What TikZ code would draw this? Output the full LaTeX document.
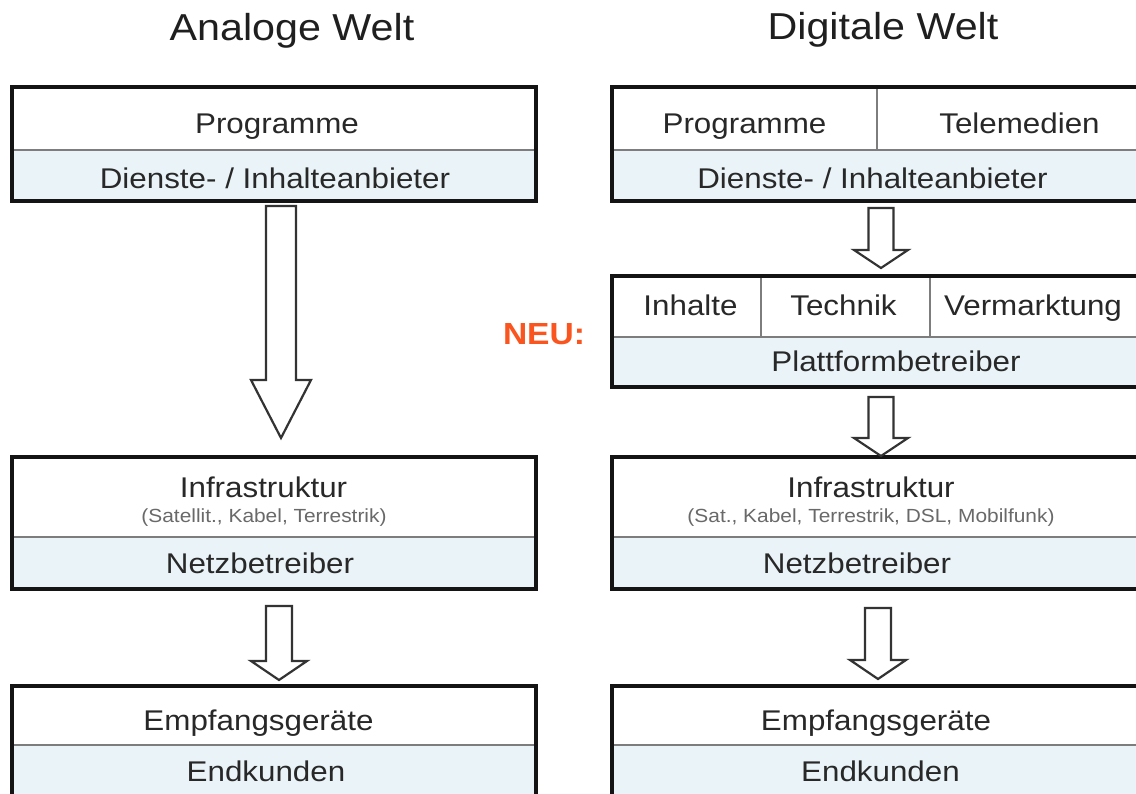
\documentclass[tikz,border=0pt]{standalone}
\usepackage{fontspec}
\setmainfont{Liberation Sans}
\newfontfamily\wfont{Liberation Sans}[FakeStretch=1.1]
\newfontfamily\wfontbold{Liberation Sans Bold}[FakeStretch=1.1]
\usetikzlibrary{calc}

\definecolor{paneblue}{RGB}{234,244,248}
\definecolor{inkgrey}{RGB}{40,40,40}
\definecolor{subgrey}{RGB}{105,105,105}
\definecolor{neuorange}{RGB}{250,85,30}
\definecolor{rulegrey}{RGB}{125,125,125}

\begin{document}
\begin{tikzpicture}[x=1pt,y=-1pt,
  cell/.style={draw=rulegrey, line width=1.4pt, inner sep=0pt, outer sep=0pt, fill=white},
  lowcell/.style={cell, fill=paneblue},
  frame/.style={draw=black!92, line width=3.3pt, inner sep=0pt, outer sep=0pt},
  title/.style={font=\wfont\fontsize{37.5}{40}\selectfont, text=black!88, anchor=base, inner sep=0pt},
  lbl/.style={font=\wfont\fontsize{28.5}{30}\selectfont, text=inkgrey, anchor=base, inner sep=0pt},
  sublbl/.style={font=\wfont\fontsize{19}{21}\selectfont, text=subgrey, anchor=base, inner sep=0pt},
  neu/.style={font=\wfontbold\fontsize{30.5}{32}\selectfont, text=neuorange, anchor=base, inner sep=0pt},
  flow/.style n args={3}{draw=black!80, line width=2.2pt, fill=white, line join=miter,
    to path={let \p1=(\tikztostart), \p2=(\tikztotarget) in
      (\x1-#1,\y1) -- (\x1+#1,\y1) -- (\x1+#1,\y2+#3) -- (\x1+#2,\y2+#3)
      -- (\x2,\y2) -- (\x1-#2,\y2+#3) -- (\x1-#1,\y2+#3) -- cycle}},
]
\useasboundingbox (0,0) rectangle (1136,794);
\fill[white] (0,0) rectangle (1136,794);
\clip (0,0) rectangle (1136,794);

% ---------- headings ----------
\node[title] (hL) at (292,41) {Analoge Welt};
\node[title] (hR) at (883,40) {Digitale Welt};

% ---------- analogue column: cells ----------
\node[cell,     minimum width=524pt, minimum height=63pt] (pL) at (274,118.5) {};
\node[lowcell,  minimum width=524pt, minimum height=51pt] (dL) at (274,175.5) {};
\node[cell,     minimum width=524pt, minimum height=80pt] (iL) at (274,497) {};
\node[lowcell,  minimum width=524pt, minimum height=52pt] (nL) at (274,563) {};
\node[cell,     minimum width=524pt, minimum height=59pt] (eL) at (274,715.5) {};
\node[lowcell,  minimum width=524pt, minimum height=57pt] (kL) at (274,773.5) {};

% ---------- digital column: cells ----------
\node[cell,     minimum width=265pt, minimum height=63pt] (pR) at (744.5,118.5) {};
\node[cell,     minimum width=263pt, minimum height=63pt] (tR) at (1008.5,118.5) {};
\node[lowcell,  minimum width=528pt, minimum height=51pt] (dR) at (876,175.5) {};
\node[cell,     minimum width=149pt, minimum height=61pt] (cInh) at (686.5,306.5) {};
\node[cell,     minimum width=169pt, minimum height=61pt] (cTec) at (845.5,306.5) {};
\node[cell,     minimum width=210pt, minimum height=61pt] (cVer) at (1035,306.5) {};
\node[lowcell,  minimum width=528pt, minimum height=50pt] (plR) at (876,362) {};
\node[cell,     minimum width=528pt, minimum height=80pt] (iR) at (876,497) {};
\node[lowcell,  minimum width=528pt, minimum height=52pt] (nR) at (876,563) {};
\node[cell,     minimum width=528pt, minimum height=59pt] (eR) at (876,715.5) {};
\node[lowcell,  minimum width=528pt, minimum height=57pt] (kR) at (876,773.5) {};

% ---------- outer frames ----------
\node[frame, minimum width=524pt, minimum height=114pt] (topL)  at (274,144) {};
\node[frame, minimum width=524pt, minimum height=132pt] (infL)  at (274,523) {};
\node[frame, minimum width=524pt, minimum height=116pt] (endL)  at (274,744) {};
\node[frame, minimum width=528pt, minimum height=114pt] (topR)  at (876,144) {};
\node[frame, minimum width=528pt, minimum height=111pt] (platR) at (876,331.5) {};
\node[frame, minimum width=528pt, minimum height=132pt] (infR)  at (876,523) {};
\node[frame, minimum width=528pt, minimum height=116pt] (endR)  at (876,744) {};

% ---------- labels ----------
\node[lbl] (tpL) at (277,134) {Programme};
\node[lbl] (tdL) at (275,189) {Dienste- / Inhalteanbieter};
\node[lbl] (tiL) at (263.5,497) {Infrastruktur};
\node[sublbl] (tsL) at (264,522) {(Satellit., Kabel, Terrestrik)};
\node[lbl] (tnL) at (260,573) {Netzbetreiber};
\node[lbl] (teL) at (258.5,730) {Empfangsgeräte};
\node[lbl] (tkL) at (266,781) {Endkunden};

\node[lbl] (tpR) at (744.5,134) {Programme};
\node[lbl] (ttR) at (1019.5,134) {Telemedien};
\node[lbl] (tdR) at (872.5,189) {Dienste- / Inhalteanbieter};
\node[lbl] (tInh) at (690.5,316) {Inhalte};
\node[lbl] (tTec) at (843.5,316) {Technik};
\node[lbl] (tVer) at (1033,316) {Vermarktung};
\node[lbl] (tPl) at (896,372) {Plattformbetreiber};
\node[lbl] (tiR) at (871,497) {Infrastruktur};
\node[sublbl] (tsR) at (871,522) {(Sat., Kabel, Terrestrik, DSL, Mobilfunk)};
\node[lbl] (tnR) at (857,573) {Netzbetreiber};
\node[lbl] (teR) at (876,730) {Empfangsgeräte};
\node[lbl] (tkR) at (880.5,781) {Endkunden};

\node[neu] (neu) at (544,345) {NEU:};

% ---------- block arrows ----------
\coordinate (aL1s) at ($(topL.south)+(7pt,-5pt)$);
\coordinate (aL1e) at ($(infL.north)+(7pt,19pt)$);
\coordinate (aL2s) at ($(infL.south)+(5pt,-17pt)$);
\coordinate (aL2e) at ($(endL.north)+(5pt,6pt)$);
\coordinate (aR1s) at ($(topR.south)+(5pt,-7pt)$);
\coordinate (aR1e) at ($(platR.north)+(5pt,8pt)$);
\coordinate (aR2s) at ($(platR.south)+(5pt,-10pt)$);
\coordinate (aR2e) at ($(infR.north)+(5pt,1pt)$);
\coordinate (aR3s) at ($(infR.south)+(2pt,-19pt)$);
\coordinate (aR3e) at ($(endR.north)+(2pt,7pt)$);

\draw[flow={15pt}{30pt}{58pt}] (aL1s) to (aL1e);
\draw[flow={13pt}{28pt}{19pt}] (aL2s) to (aL2e);
\draw[flow={12.5pt}{27pt}{18pt}] (aR1s) to (aR1e);
\draw[flow={12.5pt}{27pt}{18pt}] (aR2s) to (aR2e);
\draw[flow={13pt}{28pt}{19pt}] (aR3s) to (aR3e);
\end{tikzpicture}
\end{document}
